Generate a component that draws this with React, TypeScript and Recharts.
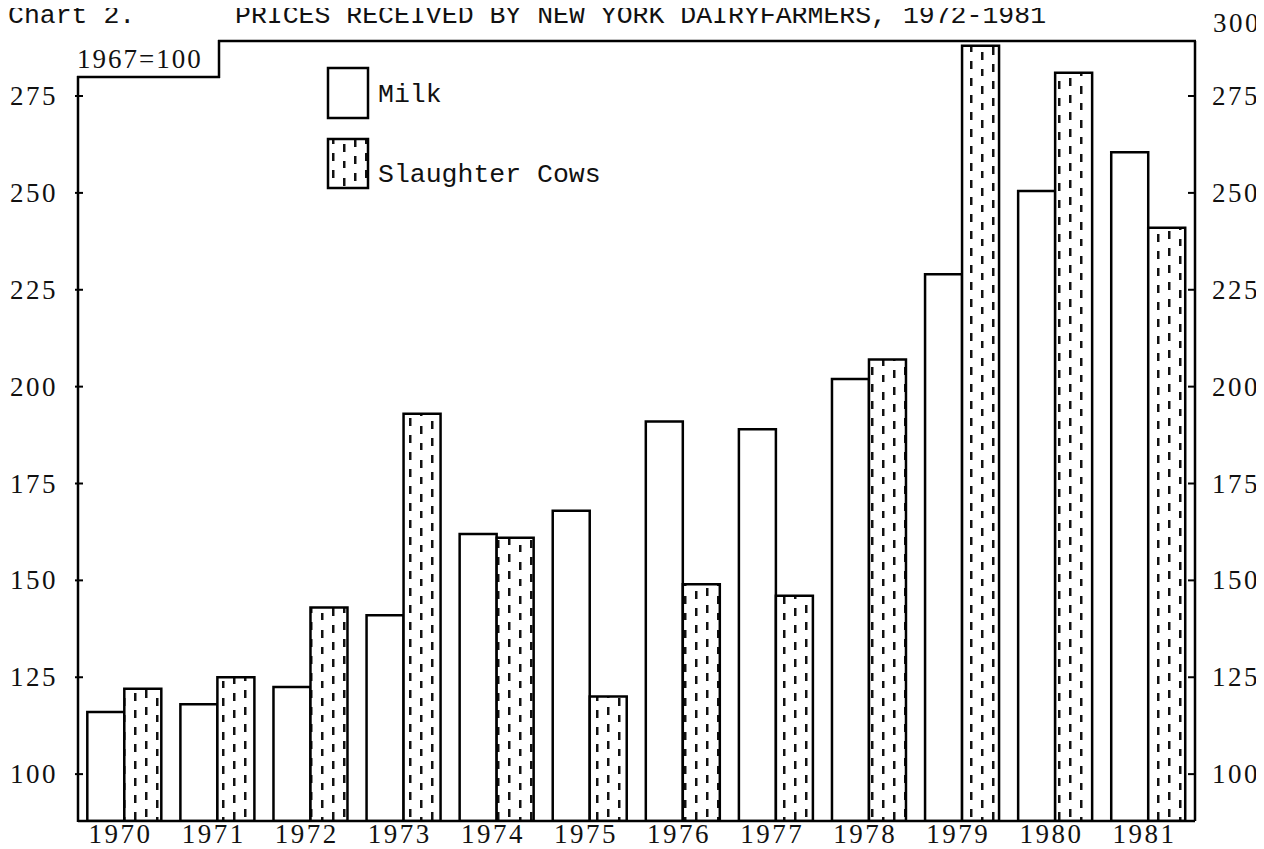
import React from "react";
import { BarChart, Bar, XAxis, YAxis, Legend } from "recharts";

const years = ["1970", "1971", "1972", "1973", "1974", "1975", "1976", "1977", "1978", "1979", "1980", "1981"];
const milk = [116, 118, 122.5, 141, 162, 168, 191, 189, 202, 229, 250.5, 260.5];
const slaughterCows = [122, 125, 143, 193, 161, 120, 149, 146, 207, 288, 281, 241];
const yTicks = [100, 125, 150, 175, 200, 225, 250, 275];

const data = years.map((y, i) => ({ year: y, milk: milk[i], cows: slaughterCows[i] }));

const TICK_FONT = "'Liberation Serif', 'DejaVu Serif', serif";
const MONO_FONT = "'Liberation Mono', 'DejaVu Sans Mono', monospace";

const LeftTick = (props: any) => {
  const { x, y, payload } = props;
  return (
    <g>
      <line x1={x - 3} y1={y} x2={x + 5} y2={y} stroke="#000" strokeWidth={2} />
      <text x={x - 20} y={y} dy={9} textAnchor="end" fontFamily={TICK_FONT} fontSize={27} letterSpacing={2.5} fill="#111">
        {payload.value}
      </text>
    </g>
  );
};

const RightTick = (props: any) => {
  const { x, y, payload } = props;
  return (
    <g>
      <line x1={x - 7} y1={y} x2={x} y2={y} stroke="#000" strokeWidth={2} />
      <text x={x + 17} y={y} dy={9} textAnchor="start" fontFamily={TICK_FONT} fontSize={27} letterSpacing={2.5} fill="#111">
        {payload.value}
      </text>
    </g>
  );
};

const BottomTick = (props: any) => {
  const { x, y, payload } = props;
  return (
    <text x={x - 4} y={y} dy={22} textAnchor="middle" fontFamily={TICK_FONT} fontSize={27} letterSpacing={2.5} fill="#111">
      {payload.value}
    </text>
  );
};

const LegendContent = () => (
  <svg width={320} height={130} style={{ display: "block", overflow: "visible" }}>
    <rect x={1} y={2} width={40} height={50} fill="#fff" stroke="#000" strokeWidth={2.5} />
    <text x={51} y={36} fontFamily={MONO_FONT} fontSize={26.5} fill="#111">Milk</text>
    <rect x={1} y={73} width={40} height={49} fill="url(#dashPattern)" stroke="#000" strokeWidth={2.5} />
    <text x={51} y={116} fontFamily={MONO_FONT} fontSize={26.5} fill="#111">Slaughter Cows</text>
  </svg>
);

export default function App() {
  return (
    <div style={{ position: "relative", width: 1256, height: 841 }}>
      <svg width={0} height={0} style={{ position: "absolute" }}>
        <defs>
          <pattern id="dashPattern" patternUnits="userSpaceOnUse" width={33} height={34}>
            <rect x={0} y={0} width={33} height={34} fill="#fff" />
            <rect x={5} y={2} width={2.5} height={8} fill="#111" />
            <rect x={5} y={19} width={2.5} height={8} fill="#111" />
            <rect x={16} y={10} width={2.5} height={8} fill="#111" />
            <rect x={16} y={27} width={2.5} height={7} fill="#111" />
            <rect x={27} y={5} width={2.5} height={8} fill="#111" />
            <rect x={27} y={22} width={2.5} height={8} fill="#111" />
          </pattern>
        </defs>
      </svg>
      <BarChart
        width={1256}
        height={841}
        data={data}
        margin={{ top: 33, right: 0, bottom: 0, left: 0 }}
        barCategoryGap="10%"
        barGap={0}
      >
        <XAxis
          dataKey="year"
          interval={0}
          tickSize={0}
          tickMargin={0}
          height={28}
          tick={<BottomTick />}
          axisLine={{ stroke: "#000", strokeWidth: 2.5 }}
          tickLine={false}
        />
        <YAxis
          yAxisId="left"
          orientation="left"
          width={70}
          domain={[87.9, 289.2]}
          ticks={yTicks}
          allowDataOverflow
          axisLine={false}
          tickSize={0}
          tickMargin={0}
          tickLine={false}
          tick={<LeftTick />}
        />
        <YAxis
          yAxisId="right"
          orientation="right"
          width={69}
          domain={[87.9, 289.2]}
          ticks={yTicks}
          allowDataOverflow
          axisLine={{ stroke: "#000", strokeWidth: 2.5 }}
          tickSize={0}
          tickMargin={0}
          tickLine={false}
          tick={<RightTick />}
        />
        <Legend
          content={<LegendContent />}
          layout="horizontal"
          verticalAlign="middle"
          align="center"
          wrapperStyle={{ position: "absolute", left: 319, top: 58, width: 320, height: 130 }}
        />
        <Bar yAxisId="left" dataKey="milk" name="Milk" fill="#fff" stroke="#000" strokeWidth={2.5} isAnimationActive={false} />
        <Bar yAxisId="left" dataKey="cows" name="Slaughter Cows" fill="url(#dashPattern)" stroke="#000" strokeWidth={2.5} isAnimationActive={false} />
      </BarChart>
      <svg
        width={1264}
        height={849}
        style={{ position: "absolute", left: -8, top: -8, pointerEvents: "none" }}
      >
        <text x={8} y={23} fontFamily={MONO_FONT} fontSize={26.5} fill="#111">Chart 2.</text>
        <text x={235} y={23} fontFamily={MONO_FONT} fontSize={26.5} fill="#111">
          PRICES RECEIVED BY NEW YORK DAIRYFARMERS, 1972-1981
        </text>
        <text x={77} y={68} fontFamily={TICK_FONT} fontSize={27} letterSpacing={2} fill="#111">1967=100</text>
        <text x={1213} y={32} fontFamily={TICK_FONT} fontSize={27} letterSpacing={2.5} fill="#111">300</text>
        <line x1={78} y1={76} x2={78} y2={822} stroke="#000" strokeWidth={2.5} />
        <line x1={77} y1={77} x2={220} y2={77} stroke="#000" strokeWidth={2.5} />
        <line x1={219} y1={40} x2={219} y2={78} stroke="#000" strokeWidth={2.5} />
        <line x1={218} y1={41} x2={1196} y2={41} stroke="#000" strokeWidth={2.5} />
      </svg>
    </div>
  );
}
